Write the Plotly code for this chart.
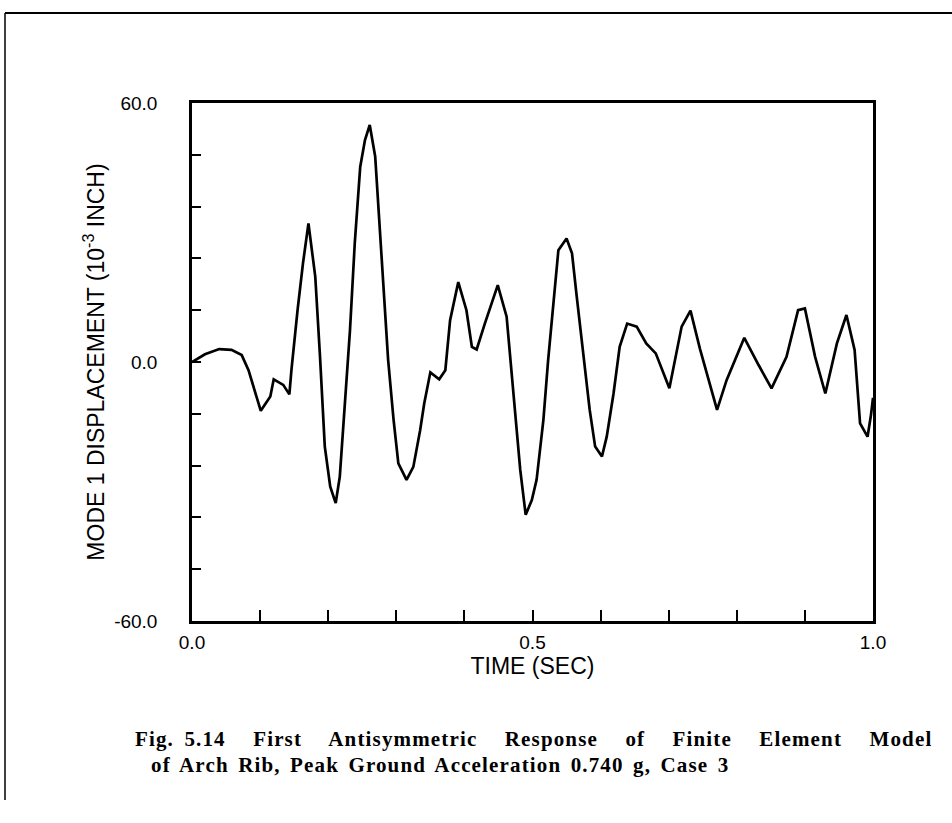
import plotly.graph_objects as go

# Time (s) and mode-1 displacement (1e-3 inch)
time_s = [0.000, 0.019, 0.040, 0.058, 0.073, 0.083, 0.101, 0.115, 0.120, 0.134,
          0.143, 0.146, 0.155, 0.163, 0.171, 0.181, 0.188, 0.195, 0.203, 0.211,
          0.217, 0.225, 0.232, 0.239, 0.247, 0.254, 0.261, 0.269, 0.274, 0.281,
          0.288, 0.296, 0.303, 0.315, 0.325, 0.335, 0.341, 0.350, 0.363, 0.372,
          0.379, 0.391, 0.403, 0.411, 0.418, 0.430, 0.449, 0.462, 0.472, 0.482,
          0.490, 0.499, 0.506, 0.516, 0.523, 0.531, 0.538, 0.550, 0.558, 0.565,
          0.575, 0.584, 0.592, 0.602, 0.609, 0.619, 0.628, 0.639, 0.653, 0.667,
          0.681, 0.701, 0.719, 0.732, 0.746, 0.771, 0.785, 0.811, 0.832, 0.851,
          0.873, 0.890, 0.900, 0.915, 0.930, 0.947, 0.961, 0.973, 0.981, 0.992,
          0.997, 1.000]
disp = [0.0, 1.8, 3.0, 2.8, 1.6, -1.9, -11.3, -8.0, -4.0, -5.3,
        -7.5, -1.9, 12.0, 22.9, 32.1, 19.8, 1.2, -19.6, -28.9, -32.7,
        -26.6, -9.6, 7.4, 27.5, 45.2, 51.4, 54.9, 47.6, 35.2, 18.2,
        0.5, -13.4, -23.5, -27.3, -24.3, -15.8, -9.6, -2.4, -4.0, -1.9,
        9.7, 18.5, 12.0, 3.5, 2.9, 8.9, 17.8, 10.5, -7.3, -25.0,
        -35.4, -32.0, -27.3, -13.4, 0.5, 14.4, 25.9, 28.6, 25.2, 15.1,
        0.5, -11.1, -19.6, -21.9, -17.3, -7.3, 3.5, 8.9, 8.2, 4.3,
        2.0, -6.1, 8.2, 11.9, 3.0, -11.1, -4.2, 5.6, -0.7, -6.1,
        1.2, 12.0, 12.4, 1.2, -7.3, 4.3, 10.9, 2.8, -14.2, -17.3,
        -12.3, -8.3]

x_tickvals = [0.0, 0.1, 0.2, 0.3, 0.4, 0.5, 0.6, 0.7, 0.8, 0.9, 1.0]
x_ticktext = ["0.0", "", "", "", "", "0.5", "", "", "", "", "1.0"]
y_tickvals = [-60, -48, -36, -24, -12, 0, 12, 24, 36, 48, 60]
y_ticktext = ["-60.0", "", "", "", "", "0.0", "", "", "", "", "60.0"]

caption_fig = "Fig. 5.14"
caption_line1 = "First Antisymmetric Response of Finite Element Model"
caption_line2 = "of Arch Rib, Peak Ground Acceleration 0.740 g, Case 3"

W, H = 952, 823
L, R, T, B = 192, 873, 103, 621

def px(xp):
    return (xp - L) / (R - L)

def py(yp):
    return (B - yp) / (B - T)

fig = go.Figure()
fig.add_trace(go.Scatter(x=time_s, y=disp, mode="lines",
                         line=dict(color="black", width=2.7),
                         showlegend=False, hoverinfo="skip"))

tick_font = dict(family="Liberation Sans, Arial, sans-serif", size=19, color="black")
title_font = dict(family="Liberation Sans, Arial, sans-serif", size=23, color="black")

fig.update_layout(
    width=W, height=H,
    margin=dict(l=L, r=W - R, t=T, b=H - B, pad=0),
    paper_bgcolor="white", plot_bgcolor="white",
    xaxis=dict(range=[0, 1], tickmode="array", tickvals=x_tickvals, ticktext=x_ticktext,
               ticks="inside", ticklen=11, tickwidth=2, tickcolor="black",
               showline=True, linecolor="black", linewidth=2.5, mirror=True,
               showgrid=False, zeroline=False, tickfont=tick_font,
               ticklabelstandoff=2,
               title=dict(text="TIME (SEC)", font=title_font, standoff=0)),
    yaxis=dict(range=[-60, 60], tickmode="array", tickvals=y_tickvals, ticktext=y_ticktext,
               ticks="inside", ticklen=9, tickwidth=2, tickcolor="black",
               showline=True, linecolor="black", linewidth=2.5, mirror=True,
               showgrid=False, zeroline=False, tickfont=tick_font,
               ticklabelstandoff=28,
               title=dict(text="MODE 1 DISPLACEMENT (10<sup>-3</sup> INCH)", font=title_font,
                          standoff=4)),
    font=tick_font,
)

# outer frame (top and left edges)
fig.add_shape(type="line", xref="paper", yref="paper",
              x0=px(5), x1=px(952), y0=py(13), y1=py(13),
              line=dict(color="black", width=2))
fig.add_shape(type="line", xref="paper", yref="paper",
              x0=px(5), x1=px(5), y0=py(13), y1=py(800),
              line=dict(color="black", width=1.5))

cap_font = dict(family="Liberation Serif, Times New Roman, serif", size=21, color="black")
line1_html = ("<b><span style=\"letter-spacing:1.15px; word-spacing:4px\">" + caption_fig + "</span>"
              "<span style=\"letter-spacing:1.15px; word-spacing:21px\"> " + caption_line1 +
              "</span></b>")
line2_html = ("<b><span style=\"letter-spacing:1.15px; word-spacing:3px\">" + caption_line2 +
              "</span></b>")
fig.add_annotation(xref="paper", yref="paper", x=px(133), y=py(739), xanchor="left",
                   yanchor="middle", text=line1_html, showarrow=False, font=cap_font)
fig.add_annotation(xref="paper", yref="paper", x=px(149), y=py(765), xanchor="left",
                   yanchor="middle", text=line2_html, showarrow=False, font=cap_font)

fig.write_html("out.html")
